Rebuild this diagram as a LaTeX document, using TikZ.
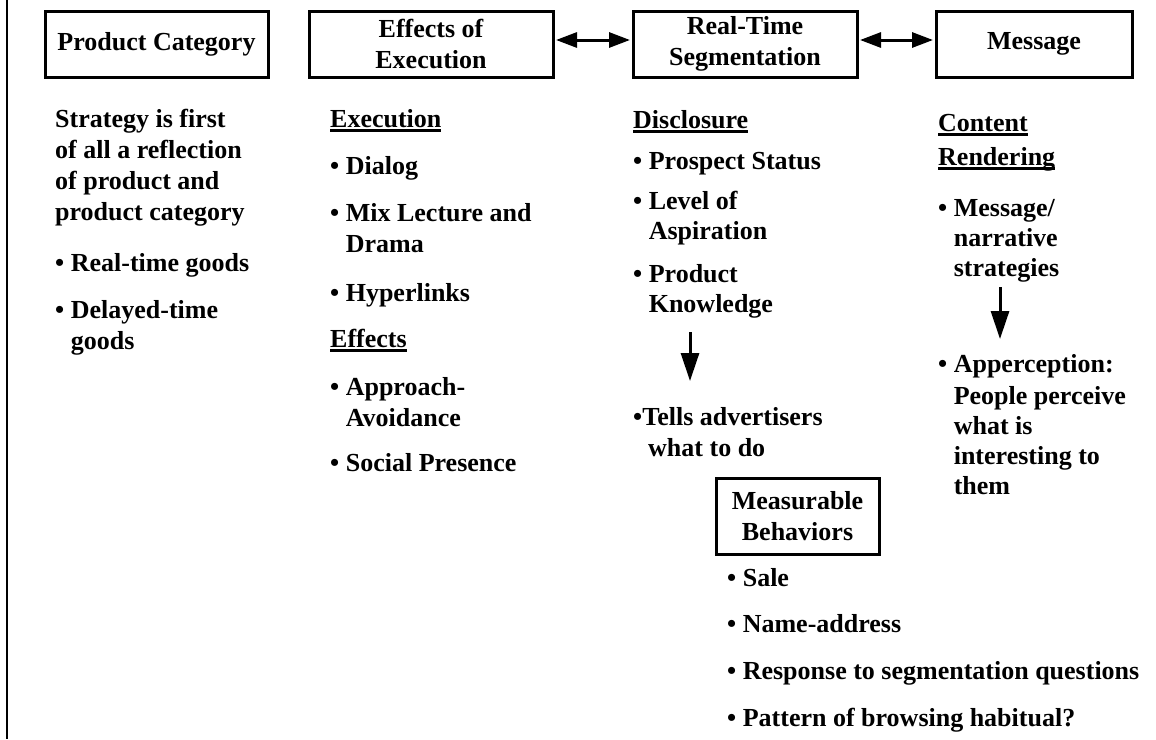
\documentclass[tikz,border=0pt]{standalone}
\usepackage{fontspec}
\setmainfont{Liberation Serif}
\usetikzlibrary{arrows.meta}
\newcommand\myul[1]{\setbox0=\hbox{#1}\rlap{\rule[-4.5pt]{\wd0}{2.4pt}}\box0}
\newcommand\ind{\hphantom{• }}
\tikzset{
  lbl/.style={font=\fontsize{26}{31}\selectfont\bfseries, inner sep=0pt, anchor=base west},
  hdr/.style={draw, line width=3pt, font=\fontsize{26}{31}\selectfont\bfseries, align=center, minimum height=66pt, inner sep=2pt},
  link/.style={line width=3pt, {Triangle[length=21pt,width=15pt]}-{Triangle[length=21pt,width=15pt]}, shorten <=1.5pt, shorten >=1.5pt},
  down/.style={line width=3pt, -{Triangle[length=28pt,width=18pt]}}
}
\begin{document}
\begin{tikzpicture}[x=1pt,y=-1pt]
\useasboundingbox (0,0) rectangle (1156,739);
\coordinate (lt) at (7,0);
\coordinate (lb) at (7,739);
\draw[line width=2.8pt] (lt) -- (lb);

% header boxes
\node[hdr, minimum width=223pt] (pc) at (156.5,44) {Product Category};
\node[hdr, minimum width=244pt] (eff) at (431,44) {Effects of\\Execution};
\node[hdr, minimum width=224pt] (rt) at (745,44) {Real-Time\\Segmentation};
\node[hdr, minimum width=196pt] (msg) at (1034,44) {Message};
\draw[link] ([yshift=4pt]eff.east) -- ([yshift=4pt]rt.west);
\draw[link] ([yshift=4pt]rt.east) -- ([yshift=4pt]msg.west);

% column 1
\node[lbl] (c1a) at (55,127) {Strategy is first};
\node[lbl] (c1b) at (55,158) {of all a reflection};
\node[lbl] (c1c) at (55,189) {of product and};
\node[lbl] (c1d) at (55,220) {product category};
\node[lbl] (c1e) at (55,271) {• Real-time goods};
\node[lbl] (c1f) at (55,318) {• Delayed-time};
\node[lbl] (c1g) at (55,349) {\ind goods};

% column 2
\node[lbl] (c2a) at (330,127) {\myul{Execution}};
\node[lbl] (c2b) at (330,174) {• Dialog};
\node[lbl] (c2c) at (330,221) {• Mix Lecture and};
\node[lbl] (c2d) at (330,252) {\ind Drama};
\node[lbl] (c2e) at (330,301) {• Hyperlinks};
\node[lbl] (c2f) at (330,347) {\myul{Effects}};
\node[lbl] (c2g) at (330,395) {• Approach-};
\node[lbl] (c2h) at (330,426) {\ind Avoidance};
\node[lbl] (c2i) at (330,471) {• Social Presence};

% column 3
\node[lbl] (c3a) at (633,128) {\myul{Disclosure}};
\node[lbl] (c3b) at (633,169) {• Prospect Status};
\node[lbl] (c3c) at (633,209) {• Level of};
\node[lbl] (c3d) at (633,239) {\ind Aspiration};
\node[lbl] (c3e) at (633,282) {• Product};
\node[lbl] (c3f) at (633,312) {\ind Knowledge};
\coordinate (a3s) at (690,332);
\coordinate (a3e) at (690,381);
\draw[down] (a3s) -- (a3e);
\node[lbl] (c3g) at (633,425) {•Tells advertisers};
\node[lbl] (c3h) at (648,456) {what to do};

% column 4
\node[lbl] (c4a) at (938,131) {\myul{Content}};
\node[lbl] (c4b) at (938,165) {\myul{Rendering}};
\node[lbl] (c4c) at (938,216) {• Message/};
\node[lbl] (c4d) at (938,246) {\ind narrative};
\node[lbl] (c4e) at (938,276) {\ind strategies};
\coordinate (a4s) at (1000,287);
\coordinate (a4e) at (1000,339);
\draw[down] (a4s) -- (a4e);
\node[lbl] (c4f) at (938,372) {• Apperception:};
\node[lbl] (c4g) at (938,404) {\ind People perceive};
\node[lbl] (c4h) at (938,434) {\ind what is};
\node[lbl] (c4i) at (938,464) {\ind interesting to};
\node[lbl] (c4j) at (938,494) {\ind them};

% measurable behaviors
\node[hdr, minimum width=163pt, minimum height=76pt] (mb) at (797.5,516) {Measurable\\Behaviors};
\node[lbl] (m1) at (727,586) {• Sale};
\node[lbl] (m2) at (727,632) {• Name-address};
\node[lbl] (m3) at (727,679) {• Response to segmentation questions};
\node[lbl] (m4) at (727,726) {• Pattern of browsing habitual?};
\end{tikzpicture}
\end{document}
